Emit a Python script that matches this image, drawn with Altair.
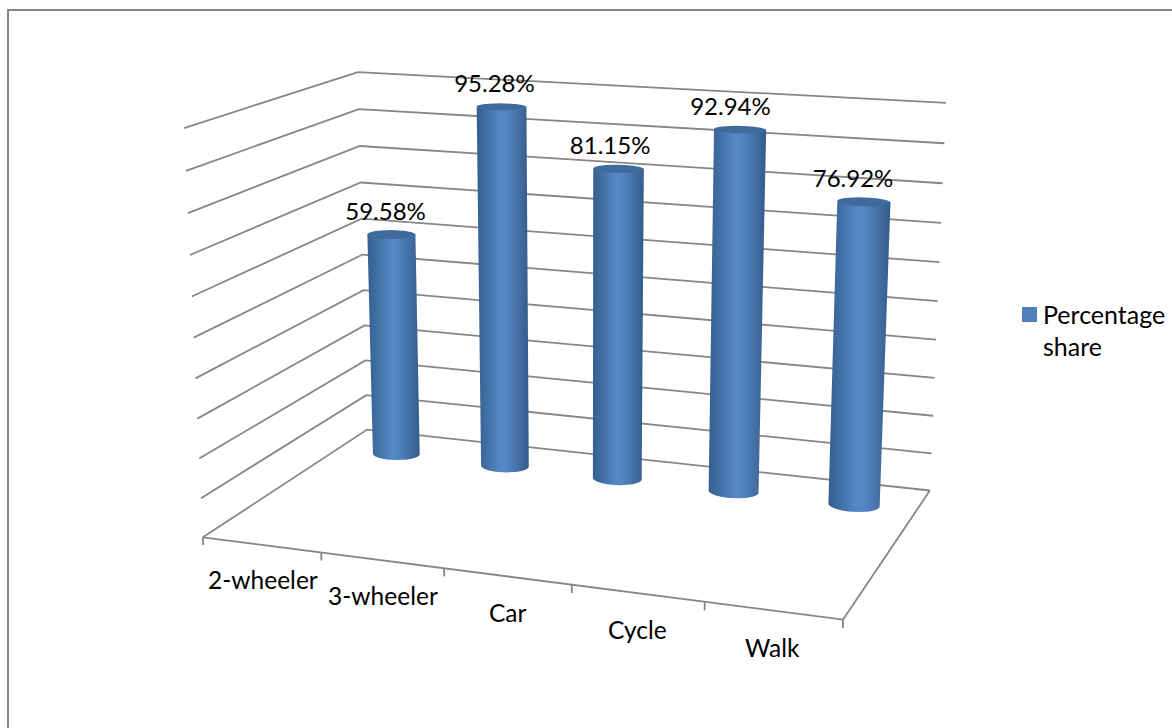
import altair as alt
import numpy as np
import pandas as pd

# Chart values
categories = ["2-wheeler", "3-wheeler", "Car", "Cycle", "Walk"]
shares = [59.58, 95.28, 81.15, 92.94, 76.92]
gridline_percents = [0, 10, 20, 30, 40, 50, 60, 70, 80, 90, 100]
series_name = "Percentage\nshare"

W, H = 1172, 728
LINE = "#868686"
FONT = "Lato"
TEXT_SIZE = 24

# Camera for the 3-D box: (along categories, depth from back wall, height) -> page.
anchors = [
    ((0, 1, 0), (203, 537)), ((0, 0, 0), (367, 430)), ((1, 0, 0), (930, 490)),
    ((1, 1, 0), (843, 620)), ((0, 0, 1), (358, 72)), ((1, 0, 1), (946, 103)),
    ((0, 1, 1), (184, 128)),
]
rows = []
for (a, b, c), (px, py) in anchors:
    rows.append([a, b, c, 1, 0, 0, 0, 0, -px * a, -px * b, -px * c, -px])
    rows.append([0, 0, 0, 0, a, b, c, 1, -py * a, -py * b, -py * c, -py])
camera = np.linalg.svd(np.array(rows, float))[2][-1].reshape(3, 4)


def project(u, d, v):
    """Map box coordinates to page pixels."""
    u, d, v = np.broadcast_arrays(u, d, v)
    pts = camera @ np.vstack([u.ravel(), d.ravel(), v.ravel(), np.ones(u.size)])
    return pts[0] / pts[2], pts[1] / pts[2]


# Wall grid, floor outline and category ticks
wires = []


def add_wire(name, corners):
    for k, (u, d, v) in enumerate(corners):
        x, y = project(u, d, v)
        wires.append({"wire": name, "k": k, "x": float(x[0]), "y": float(y[0])})


for p in gridline_percents:
    v = p / 100
    add_wire(f"grid{p}", [(0, 1, v), (0, 0, v), (1, 0, v)])
add_wire("floor", [(0, 1, 0), (1, 1, 0), (1, 0, 0)])
for i in range(len(categories) + 1):
    u = i / len(categories)
    add_wire(f"tick{i}", [(u, 1, 0), (u, 1, -0.02)])
wires = pd.DataFrame(wires)

# Cylinders: circles in the box, projected and scanned into horizontal rows
DEPTH = 0.15
BASE_LEVEL = -0.012
BAR_SHIFT = -0.004
RADIUS_U, RADIUS_D = 0.041, 0.058
theta = np.linspace(0, 2 * np.pi, 181)


def ring(center_u, v):
    return project(center_u + RADIUS_U * np.cos(theta),
                   DEPTH + RADIUS_D * np.sin(theta),
                   np.full_like(theta, v))


def hull(x, y):
    pts = sorted(set(zip(x.tolist(), y.tolist())))
    def half(seq):
        out = []
        for p in seq:
            while len(out) > 1 and ((out[-1][0] - out[-2][0]) * (p[1] - out[-2][1])
                                    - (out[-1][1] - out[-2][1]) * (p[0] - out[-2][0])) <= 0:
                out.pop()
            out.append(p)
        return out[:-1]
    return half(pts) + half(pts[::-1])


def scan(name, x, y, y_from=None):
    poly = hull(x, y)
    top = y.min() if y_from is None else y_from
    out = []
    bottom = y.max()
    for yy in np.linspace(top, bottom, int((bottom - top) * 3) + 2):
        xs = []
        for (x0, y0), (x1, y1) in zip(poly, poly[1:] + poly[:1]):
            if min(y0, y1) <= yy <= max(y0, y1) and y0 != y1:
                xs.append(x0 + (yy - y0) * (x1 - x0) / (y1 - y0))
        if xs:
            out.append({"bar": name, "y": float(yy), "xl": float(min(xs)), "xr": float(max(xs))})
    return out


bodies, caps, value_labels = [], [], []
for i, (name, share) in enumerate(zip(categories, shares)):
    u = (i + 0.5) / len(categories) + BAR_SHIFT
    v = share / 100
    bx, by = ring(u, BASE_LEVEL)
    tx, ty = ring(u, v)
    bodies += scan(name, np.r_[bx, tx], np.r_[by, ty], y_from=float(ty.mean()))
    caps += scan(name, tx, ty)
    value_labels.append({"x": float(tx.mean()) - 6 - 1.25 * i, "y": float(ty.mean()) - 21.5,
                         "text": f"{share:.2f}%"})
bodies, caps = pd.DataFrame(bodies), pd.DataFrame(caps)
value_labels = pd.DataFrame(value_labels)

cat_x, cat_y = project((np.arange(5) + 0.5) / 5, 1.0, -0.095)
cat_labels = pd.DataFrame({"x": cat_x, "y": cat_y, "text": categories})

x_scale = alt.Scale(domain=[0, W], nice=False, zero=False)
y_scale = alt.Scale(domain=[H, 0], nice=False, zero=False)
x_pos = alt.X("x:Q", scale=x_scale, axis=None)
y_pos = alt.Y("y:Q", scale=y_scale, axis=None)
x_left = alt.X("xl:Q", scale=x_scale, axis=None, stack=None)

body_fill = alt.Gradient(
    gradient="linear", x1=0, x2=1, y1=0, y2=0,
    stops=[
        alt.GradientStop(color="#34608f", offset=0),
        alt.GradientStop(color="#3f6c9f", offset=0.15),
        alt.GradientStop(color="#5588c8", offset=0.47),
        alt.GradientStop(color="#5386c5", offset=0.57),
        alt.GradientStop(color="#40699c", offset=0.87),
        alt.GradientStop(color="#325c8b", offset=1),
    ],
)

wire_layer = alt.Chart(wires).mark_line(color=LINE, strokeWidth=1.8, interpolate="linear").encode(
    x=x_pos, y=y_pos, detail="wire:N", order="k:Q"
)
body_layer = alt.Chart(bodies).mark_area(orient="horizontal", fill=body_fill).encode(
    y=y_pos, x=x_left, x2=alt.X2("xr"), detail="bar:N"
)
cap_layer = alt.Chart(caps).mark_area(orient="horizontal", fill="#3f6a9c").encode(
    y=y_pos, x=x_left, x2=alt.X2("xr"), detail="bar:N"
)
value_layer = alt.Chart(value_labels).mark_text(font=FONT, fontSize=TEXT_SIZE, color="#000000").encode(
    x=x_pos, y=y_pos, text="text:N"
)
cat_layer = alt.Chart(cat_labels).mark_text(font=FONT, fontSize=TEXT_SIZE + 0.5, color="#000000").encode(
    x=x_pos, y=y_pos, text="text:N"
)

# Legend and outer frame
legend_df = pd.DataFrame({"x": [1029.5], "y": [314.5], "tx": [1043.0], "ty": [316.0], "text": [series_name]})
legend_swatch = alt.Chart(legend_df).mark_square(size=225, color="#4f81bd", opacity=1, filled=True).encode(
    x=x_pos, y=y_pos
)
legend_text = alt.Chart(legend_df).mark_text(
    font=FONT, fontSize=TEXT_SIZE + 1, align="left", baseline="middle", lineBreak="\n", lineHeight=32, color="#000000"
).encode(
    x=alt.X("tx:Q", scale=x_scale, axis=None),
    y=alt.Y("ty:Q", scale=y_scale, axis=None),
    text="text:N",
)
frame_df = pd.DataFrame({"k": [0, 1, 2], "x": [8, 8, W], "y": [H, 10, 10]})
frame = alt.Chart(frame_df).mark_line(color=LINE, strokeWidth=2).encode(x=x_pos, y=y_pos, order="k:Q")

chart = alt.layer(
    frame, wire_layer, body_layer, cap_layer, value_layer, cat_layer, legend_swatch, legend_text
).properties(
    width=W, height=H, padding=0, autosize=alt.AutoSizeParams(type="none"), background="#ffffff"
).configure_view(stroke=None)

chart.save("out.html", embed_options={"renderer": "svg", "actions": False})
